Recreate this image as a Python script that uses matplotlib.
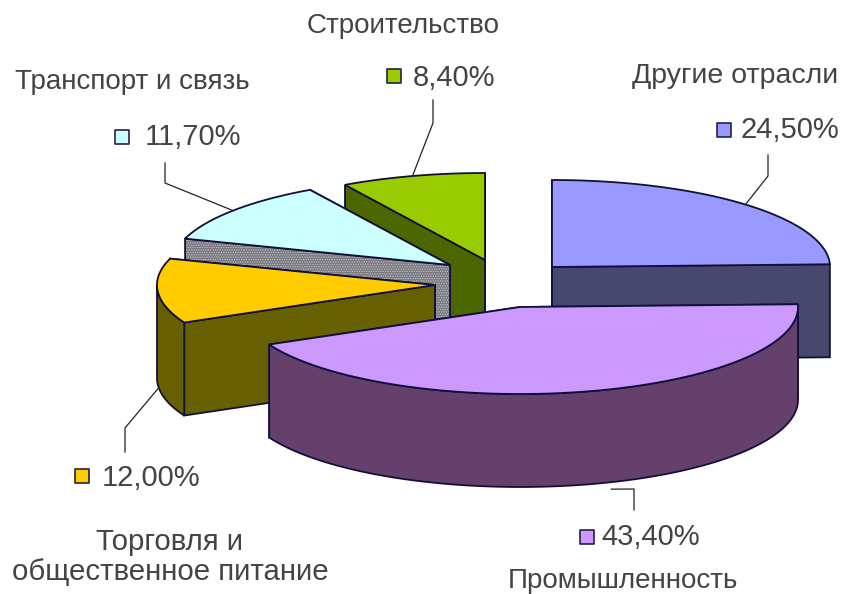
import numpy as np
import matplotlib

matplotlib.use("Agg")
import matplotlib.pyplot as plt
from matplotlib.patches import Polygon

# clockwise from 12 o'clock
names = ["Другие отрасли", "Промышленность", "Торговля и\nобщественное питание", "Транспорт и связь", "Строительство"]
shares = [24.5, 43.4, 12.0, 11.7, 8.4]
share_labels = ["24,50%", "43,40%", "12,00%", "11,70%", "8,40%"]

top_colors = ["#9999FF", "#CC99FF", "#FFCC00", "#CCFFFF", "#99CC00"]
side_colors = ["#48486F", "#66406C", "#666000", "#78787E", "#4C6600"]

# layout, all in picture pixels
centers = [(552, 267), (520, 307), (435, 285), (450, 265), (485, 260)]
rx, ry, depth = 278, 87, 93
edge = "#10103A"

name_pos = [(735, 76), (623, 581), (170, 557), (132, 82), (403, 26)]
name_size = [20.5, 20, 21.2, 20, 20]
value_pos = [(741, 130), (601, 537), (102, 478), (145, 137), (413, 78)]
marker_pos = [(724, 130), (587, 537), (82, 476), (122, 137), (394, 76)]
leaders = [
    [(768, 176), (768, 155)],
    [(634, 489), (634, 510)],
    [(125, 428), (125, 452)],
    [(165, 183), (165, 163)],
    [(433, 123), (433, 100)],
]
leader_shift = [0, -5.5, 0, 0, 0]
leader_gap = [0, 100, 98, 0, 0]


def rim(center, a0, a1, n=120):
    t = np.radians(np.linspace(a0, a1, n))
    return np.column_stack([center[0] + rx * np.sin(t), center[1] - ry * np.cos(t)])


def main() -> None:
    plt.rcParams["font.family"] = ["Liberation Sans", "DejaVu Sans"]
    plt.rcParams["hatch.linewidth"] = 0.6
    fig = plt.figure(figsize=(8.44, 5.94), dpi=100)
    ax = fig.add_axes([0, 0, 1, 1])
    ax.set_xlim(0, 844)
    ax.set_ylim(594, 0)
    ax.axis("off")

    bounds = np.cumsum([0] + shares) / sum(shares) * 360
    down = np.array([0, depth])

    def side(points, i, z):
        # hatch colour follows edgecolor, so the outline goes on separately
        if i == 3:
            ax.add_patch(Polygon(points, closed=True, facecolor=side_colors[i], edgecolor="#C4C4CC", lw=0,
                                 hatch=".......", zorder=z))
        else:
            ax.add_patch(Polygon(points, closed=True, facecolor=side_colors[i], lw=0, zorder=z))
        ax.add_patch(Polygon(points, closed=True, fill=False, edgecolor=edge, lw=1.3, zorder=z))

    # back slices first so the big front slice covers them
    z = 1
    for i in [0, 4, 3, 2, 1]:
        a0, a1 = bounds[i], bounds[i + 1]
        c = np.array(centers[i], dtype=float)
        arc = rim(c, a0, a1)
        faces = [
            np.array([c, arc[0], arc[0] + down, c + down]),
            np.array([c, arc[-1], arc[-1] + down, c + down]),
        ]
        faces.sort(key=lambda f: f[1][1])
        for f in faces:
            side(f, i, z)
            z += 1
        # only the front half of the rim shows as a wall
        lo, hi = max(a0, 90), min(a1, 270)
        if hi > lo:
            wall = rim(c, lo, hi)
            side(np.vstack([wall, (wall + down)[::-1]]), i, z)
            z += 1
        ax.add_patch(Polygon(np.vstack([c, arc]), closed=True, facecolor=top_colors[i], edgecolor=edge, lw=1.3,
                             zorder=z))
        z += 1

    for i in range(len(shares)):
        mid = (bounds[i] + bounds[i + 1]) / 2 + leader_shift[i]
        start = rim(centers[i], mid, mid, 1)[0] + np.array([0, leader_gap[i]])
        pts = np.vstack([start, leaders[i]])
        ax.plot(pts[:, 0], pts[:, 1], color="#222222", lw=0.9, zorder=z)
        ax.scatter(*marker_pos[i], s=100, marker="s", color=top_colors[i], edgecolor="#222244", lw=1.2, zorder=z)
        ax.text(*value_pos[i], share_labels[i], fontsize=21, color="#444444", ha="left", va="center", zorder=z)
        ax.text(*name_pos[i], names[i], fontsize=name_size[i], color="#444444", ha="center", va="center",
                linespacing=1.12, zorder=z)

    fig.savefig("out.png", dpi=100)
    plt.close(fig)


if __name__ == "__main__":
    main()
